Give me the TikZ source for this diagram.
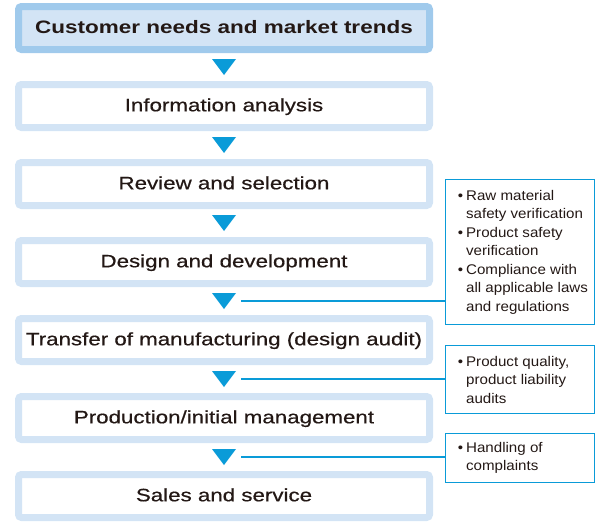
\documentclass[tikz,border=0pt]{standalone}
\usepackage{fontspec}
\setmainfont{Liberation Sans}
\newfontfamily\stagefont[FakeStretch=1.24,FakeBold=0.5]{Liberation Sans}
\newfontfamily\stagebold[FakeStretch=1.25]{Liberation Sans Bold}
\newfontfamily\notefont[FakeStretch=1.08]{Liberation Sans}
\usepackage{tikz}
\usetikzlibrary{positioning}
\definecolor{ringblue}{RGB}{211,228,245}
\definecolor{ringdark}{RGB}{160,202,236}
\definecolor{arrowblue}{RGB}{10,155,216}
\definecolor{inkblack}{RGB}{35,24,21}
\newcommand{\bul}{\makebox[0pt][r]{\textbullet\hspace{3pt}}}
\tikzset{%
  every stage/.style={
    draw=ringblue,
    line width=7pt,
    fill=white,
    rounded corners=3pt,
    minimum width=411pt,
    minimum height=43pt,
    inner sep=0pt,
    text height=13pt,
    text depth=2.4pt,
    text=inkblack,
    font=\stagefont\fontsize{18}{20}\selectfont
  },
  stage top/.style={
    every stage,
    draw=ringdark,
    fill=ringblue,
    font=\stagebold\fontsize{18}{20}\selectfont
  },
  down arrow/.style={
    minimum width=24pt,
    minimum height=16pt,
    inner sep=0pt,
    path picture={\fill[arrowblue] (path picture bounding box.north west)
      -- (path picture bounding box.north east)
      -- (path picture bounding box.south) -- cycle;}
  },
  note box/.style={
    draw=arrowblue,
    line width=1.1pt,
    minimum width=149pt
  },
  note text/.style={
    align=left,
    inner sep=0pt,
    text=inkblack,
    font=\notefont\fontsize{14}{18.5}\selectfont
  },
  note link/.style={draw=arrowblue, line width=1.1pt},
}

\begin{document}
\begin{tikzpicture}[x=1pt, y=-1pt]
\useasboundingbox (0,0) rectangle (603,522);
% flow of stages
\node[stage top] (stage1) at (224,28) {Customer needs and market trends};
\foreach \n/\txt in {2/{Information analysis}, 3/{Review and selection},
    4/{Design and development}, 5/{Transfer of manufacturing (design audit)},
    6/{Production/initial management}, 7/{Sales and service}}
    \node[every stage] (stage\n) at (224,{28+78*(\n-1)}) {\txt};
\foreach \n in {1,...,6}
    \node[down arrow] (tri\n) at (224,{67+78*(\n-1)}) {};

% checks beside the flow
\node[note box, minimum height=145pt] (noteA) at (520,252) {};
\node[note text, anchor=west] (noteAtext) at ([xshift=21pt]noteA.west)
    {\bul Raw material\\ safety verification\\ \bul Product safety\\ verification\\
     \bul Compliance with\\ all applicable laws\\ and regulations};
\node[note box, minimum height=68pt] (noteB) at (520,379.5) {};
\node[note text, anchor=west] (noteBtext) at ([xshift=21pt]noteB.west)
    {\bul Product quality,\\ product liability\\ audits};
\node[note box, minimum height=49pt] (noteC) at (520,458) {};
\node[note text, anchor=west] (noteCtext) at ([xshift=21pt]noteC.west)
    {\bul Handling of\\ complaints};

\draw[note link] ([xshift=5pt]tri4.east) -- (tri4.east -| noteA.west);
\draw[note link] ([xshift=5pt]tri5.east) -- (tri5.east -| noteB.west);
\draw[note link] ([xshift=5pt]tri6.east) -- (tri6.east -| noteC.west);
\end{tikzpicture}
\end{document}
